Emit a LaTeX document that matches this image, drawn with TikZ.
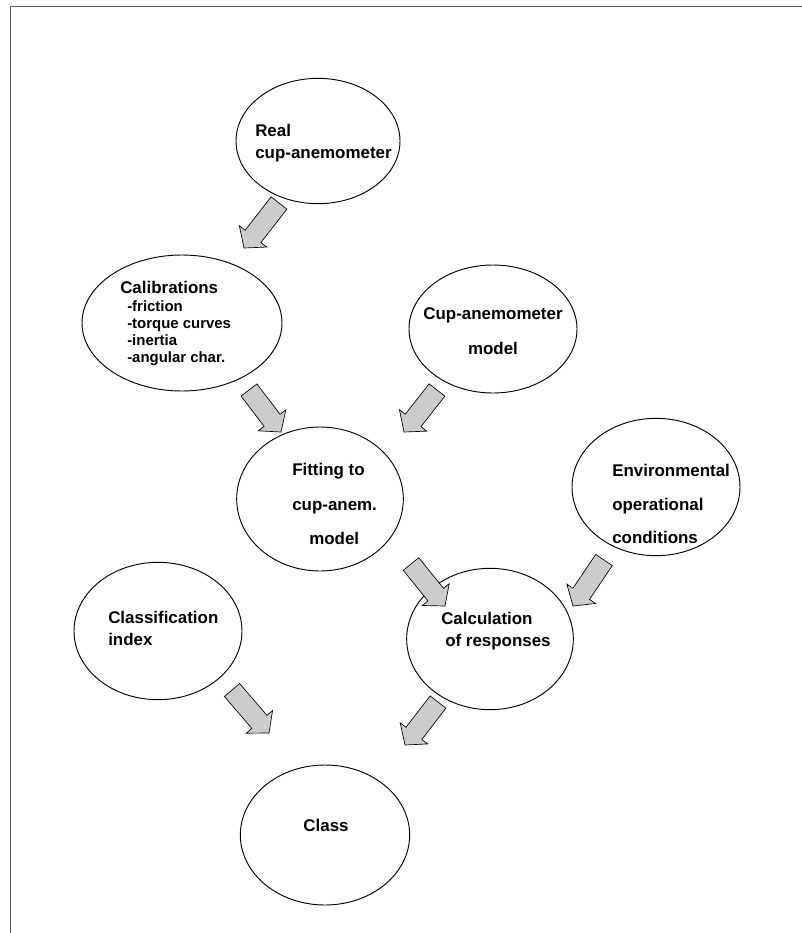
\documentclass[tikz,border=0pt]{standalone}
\usepackage{fontspec}
\setmainfont{Liberation Sans}
\usetikzlibrary{shapes.geometric,calc}
\definecolor{arrowgray}{RGB}{204,204,204}
\definecolor{framegray}{RGB}{100,100,100}
\newcommand\mainfnt{\fontsize{12.7}{15}\selectfont\bfseries}
\newcommand\subfnt{\fontsize{11.2}{13}\selectfont\bfseries}
\tikzset{
  ell/.style={draw=black, ellipse, fill=white, line width=0.7pt, inner sep=0pt},
  lbl/.style={anchor=base west, inner sep=0pt, font=\mainfnt},
  lblc/.style={anchor=base, inner sep=0pt, font=\mainfnt},
  sublbl/.style={anchor=base west, inner sep=0pt, font=\subfnt},
  blockarrow/.style={draw=black, fill=arrowgray, line width=0.5pt, line join=miter,
    to path={let \p1=(\tikztostart), \p2=(\tikztotarget),
      \n1={atan2(\y2-\y1,\x2-\x1)}, \n2={veclen(\x2-\x1,\y2-\y1)} in
      ($(\p1)+({\n1+90}:7.5pt)$)
      -- ($(\p1)+(\n1:{\n2-11pt})+({\n1+90}:7.5pt)$)
      -- ($(\p1)+(\n1:{\n2-11pt})+({\n1+90}:13pt)$)
      -- (\p2)
      -- ($(\p1)+(\n1:{\n2-11pt})+({\n1-90}:13pt)$)
      -- ($(\p1)+(\n1:{\n2-11pt})+({\n1-90}:7.5pt)$)
      -- ($(\p1)+({\n1-90}:7.5pt)$) -- cycle}}
}
\begin{document}
\begin{tikzpicture}[x=0.75pt,y=-0.75pt]
\useasboundingbox (0,0) rectangle (802,933);
\draw[framegray, line width=1.2pt] (10.5,933) -- (10.5,6.5) -- (802,6.5);

% ellipses
\node[ell, minimum width=123pt, minimum height=94pt] (real) at (318,141) {};
\node[ell, minimum width=150pt, minimum height=102pt] (calib) at (182,323) {};
\node[ell, minimum width=126pt, minimum height=96pt] (cupm) at (493,329) {};
\node[ell, minimum width=125pt, minimum height=108pt] (fit) at (320,499) {};
\node[ell, minimum width=126pt, minimum height=103pt] (env) at (656,487) {};
\node[ell, minimum width=126pt, minimum height=103pt] (clix) at (158,631) {};
\node[ell, minimum width=125pt, minimum height=106pt] (calc) at (490,639) {};
\node[ell, minimum width=127pt, minimum height=105pt] (cls) at (325,835) {};

% texts
\node[lbl] (realA) at (255,136) {Real};
\node[lbl] (realB) at (255,158) {cup-anemometer};
\node[lbl] (calA) at (120,293) {Calibrations};
\node[sublbl] (calB) at (127,311) {-friction};
\node[sublbl] (calC) at (127,328) {-torque curves};
\node[sublbl] (calD) at (127,345) {-inertia};
\node[sublbl] (calE) at (127,362) {-angular char.};
\node[lblc] (cupA) at (493,319) {Cup-anemometer};
\node[lblc] (cupB) at (493,354) {model};
\node[lbl] (fitA) at (292,475) {Fitting to};
\node[lbl] (fitB) at (292,510) {cup-anem.};
\node[lbl] (fitC) at (309,544) {model};
\node[lbl] (envA) at (612,476) {Environmental};
\node[lbl] (envB) at (612,510) {operational};
\node[lbl] (envC) at (612,543) {conditions};
\node[lbl] (clixA) at (108,623) {Classification};
\node[lbl] (clixB) at (108,645) {index};
\node[lbl] (calcA) at (441,624) {Calculation};
\node[lbl] (calcB) at (445,646) {of responses};
\node[lblc] (clsA) at (326,831) {Class};

% block arrows
\draw[blockarrow] ($(real)+(-39,62)$) to ($(calib)+(62,-75)$);
\draw[blockarrow] ($(calib)+(67,67)$) to ($(fit)+(-39,-67)$);
\draw[blockarrow] ($(cupm)+(-56,61)$) to ($(fit)+(84,-67)$);
\draw[blockarrow] ($(fit)+(91,65)$) to ($(calc)+(-45,-33)$);
\draw[blockarrow] ($(env)+(-52,73)$) to ($(calc)+(83,-33)$);
\draw[blockarrow] ($(clix)+(74,59)$) to ($(cls)+(-56,-102)$);
\draw[blockarrow] ($(calc)+(-52,63)$) to ($(cls)+(80,-90)$);
\end{tikzpicture}
\end{document}
